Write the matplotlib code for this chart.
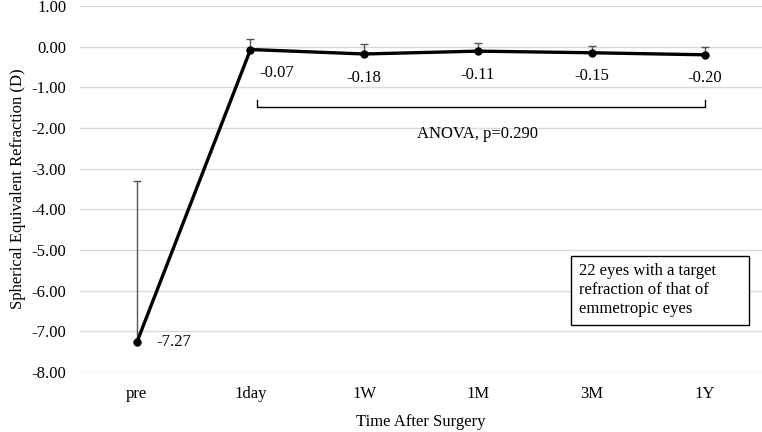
import numpy as np
import matplotlib.pyplot as plt
from matplotlib.patches import Rectangle

plt.rcParams['font.family'] = ['Liberation Serif', 'DejaVu Serif']

# data
times = ['pre', '1day', '1W', '1M', '3M', '1Y']
ser = [-7.27, -0.07, -0.18, -0.11, -0.15, -0.20]
sd = [3.97, 0.26, 0.25, 0.21, 0.17, 0.20]
labels = ['-7.27', '-0.07', '-0.18', '-0.11', '-0.15', '-0.20']

fig = plt.figure(figsize=(7.62, 4.32), dpi=100)
ax = fig.add_axes([80/762, 1-372/432, 1-80/762, 366/432])

x = np.arange(len(times))
# upper error bars only
ax.errorbar(x, ser, yerr=[np.zeros(len(sd)), sd], fmt='none', ecolor='#555555',
            elinewidth=1, capsize=3, capthick=1, zorder=2)
ax.plot(x, ser, color='black', lw=2.4, marker='o', ms=5, zorder=3)

# data labels
ax.text(x[0] + 0.17, ser[0], labels[0], fontsize=12, va='center', ha='left')
ax.text(x[1] + 0.08, ser[1] - 0.58, labels[1], fontsize=12, va='center', ha='left')
for i in range(2, len(x)):
    ax.text(x[i], ser[i] - 0.58, labels[i], fontsize=12, va='center', ha='center')

# bracket for ANOVA
ax.plot([x[1] + 0.06, x[1] + 0.06, x[5], x[5]], [-1.32, -1.48, -1.48, -1.32],
        color='black', lw=1)
ax.text((x[1] + x[5]) / 2, -2.15, 'ANOVA, p=0.290', fontsize=12, ha='center', va='center')

# note box
ax.add_patch(Rectangle((3.82, -6.84), 1.57, 1.70, fc='white', ec='black', lw=1, zorder=4))
ax.text(3.89, -5.99, '22 eyes with a target\nrefraction of that of\nemmetropic eyes',
        fontsize=12, ha='left', va='center', linespacing=1.25, zorder=5)

ax.set_xlim(-0.5, 5.5)
ax.set_ylim(-8, 1)
ax.set_yticks(np.arange(-8, 1.01, 1))
ax.set_yticklabels(['%.2f' % v for v in np.arange(-8, 1.01, 1)], fontsize=12)
ax.set_xticks(x)
ax.set_xticklabels(times, fontsize=12)
ax.tick_params(length=0, pad=10)
ax.grid(axis='y', color='#d9d9d9', lw=1)
ax.set_axisbelow(True)
for s in ax.spines.values():
    s.set_visible(False)

ax.set_xlabel('Time After Surgery', fontsize=12, labelpad=9)
ax.set_ylabel('Spherical Equivalent Refraction (D)', fontsize=12, labelpad=4)

fig.savefig('out.png', dpi=100)
